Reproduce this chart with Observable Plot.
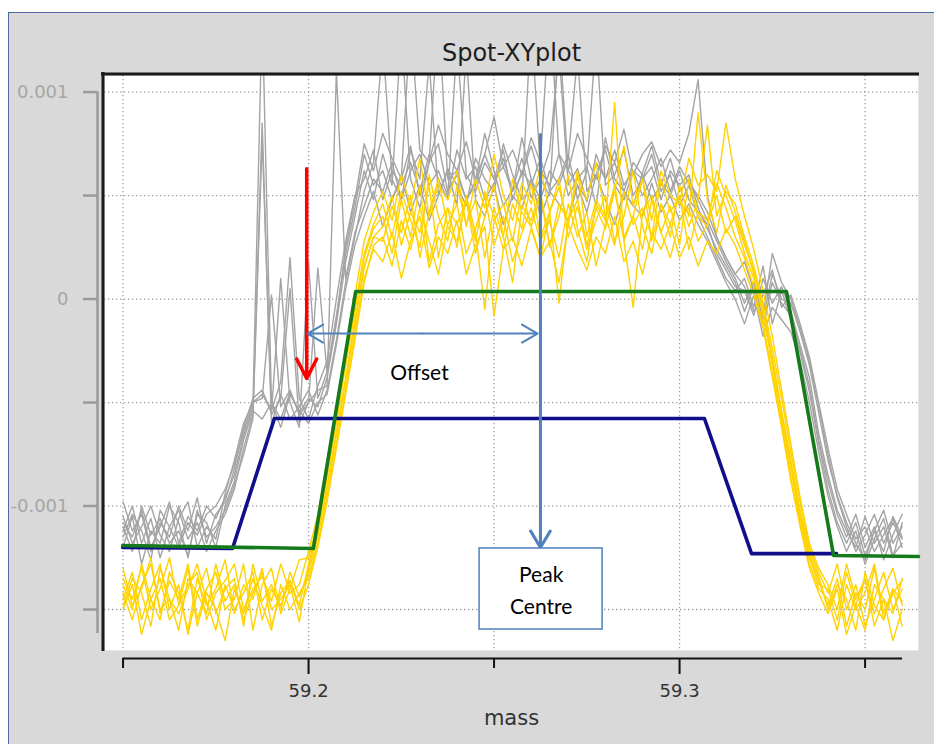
<!DOCTYPE html>
<html><head><meta charset="utf-8">
<script src="https://cdn.jsdelivr.net/npm/d3@7"></script>
<script src="https://cdn.jsdelivr.net/npm/@observablehq/plot@0.6"></script>
<style>
html,body{margin:0;padding:0;background:#fff;overflow:hidden;}
#wrap{position:relative;width:934px;height:744px;}
#panel{position:absolute;left:8px;top:12px;right:0;bottom:0;background:#d9d9d9;border-left:1.5px solid #4a6da0;border-top:1.5px solid #4a6da0;}
#chart{position:absolute;left:0;top:0;}
</style></head><body>
<div id="wrap"><div id="panel"></div><div id="chart"></div></div>
<script>
// ---- data -------------------------------------------------------------
const UNIT = 1e-5; // trace values are written in units of 1e-5

const mass = [
59.1500,59.1525,59.1550,59.1575,59.1600,59.1625,59.1650,59.1675,59.1700,59.1725,
59.1750,59.1775,59.1800,59.1825,59.1850,59.1875,59.1900,59.1925,59.1950,59.1975,
59.2000,59.2025,59.2050,59.2075,59.2100,59.2125,59.2150,59.2175,59.2200,59.2225,
59.2250,59.2275,59.2300,59.2325,59.2350,59.2375,59.2400,59.2425,59.2450,59.2475,
59.2500,59.2525,59.2550,59.2575,59.2600,59.2625,59.2650,59.2675,59.2700,59.2725,
59.2750,59.2775,59.2800,59.2825,59.2850,59.2875,59.2900,59.2925,59.2950,59.2975,
59.3000,59.3025,59.3050,59.3075,59.3100,59.3125,59.3150,59.3175,59.3200,59.3225,
59.3250,59.3275,59.3300,59.3325,59.3350,59.3375,59.3400,59.3425,59.3450,59.3475,
59.3500,59.3525,59.3550,59.3575,59.3600];

const gray1 = [-108,-115,-102,-120,-110,-98,-118,-105,-112,-100,-106, -96,-85,-66,-52,
 140,-50,-58,-45,-55,-48,-52, -38,-12,18,40,
 62,48,70,55,130,58,44,66,75,52,60,48,57,80,62,45,53,68,49,58,72,120,55,63,47,70,58,66,52,45,61,74,56,50,62,48,
 42,36,22,14,6, 4,-8,10,-2,6, -6,-22,-38,-65,-85,-102, -112,-120,-105,-118,-110,-125,-108];
const gray2 = [-120,-105,-128,-112,-118,-100,-108,-125,-102,-115,-110, -102,-90,-75,-58,
 78,-56,-48,5,-60,-50,-44, -42,110,10,32,
 45,58,52,66,48,72,58,115,50,63,55,45,68,58,52,75,60,48,135,62,55,70,50,58,64,45,78,58,52,66,60,48,55,68,52,58,
 48,38,28,18,10, -2,8,-10,12,0, -2,-16,-32,-55,-78,-95, -108,-118,-126,-112,-122,-105,-115];
const gray3 = [-98,-112,-104,-122,-108,-115,-100,-112,-96,-118,-104, -98,-82,-62,-48,
 -44,-55,10,-50,-62,18,-48, -35,-8,22,44,
 70,55,62,48,58,74,50,66,140,58,62,48,55,70,58,64,52,78,58,48,62,55,68,118,52,60,72,55,48,62,58,70,52,60,45,55,
 40,30,20,10,4, 10,-4,16,-12,4, -10,-26,-45,-70,-92,-108, -118,-108,-124,-112,-102,-118,-110];
const gray4 = [-112,-100,-118,-106,-125,-110,-102,-116,-108,-122,-112, -104,-92,-72,-56,
 85,-60,-46,-58,-52,-44,-56, -44,-20,8,30,
 52,66,125,58,48,62,70,55,62,50,72,58,64,48,56,68,52,60,74,58,50,130,62,55,48,66,58,72,55,62,50,58,68,52,64,56,
 50,42,30,20,12, 6,-6,2,14,-4, 2,-12,-28,-50,-72,-92, -104,-116,-110,-122,-114,-106,-120];
const gray5 = [-105,-118,-110,-100,-114,-122,-106,-98,-120,-110,-116, -94,-78,-60,-50,
 -46,-54,-40,20,-48,-58,-42, -30,0,28,50,
 58,72,48,62,55,66,52,70,58,48,125,60,52,66,58,72,48,62,55,68,52,58,70,48,62,128,55,60,72,50,58,64,48,62,55,60,
 44,34,24,16,8, -6,6,-14,8,-2, -8,-24,-42,-68,-88,-104, -115,-104,-120,-110,-126,-114,-104];
const gray6 = [-115,-104,-112,-126,-102,-110,-120,-108,-114,-104,-100, -92,-80,-64,-50,
 -48,2,-52,-44,-56,-50,15, -36,-10,25,48,
 75,62,80,68,58,135,72,66,84,70,62,76,58,70,88,64,72,60,78,66,140,70,62,80,68,58,74,66,82,60,70,76,64,72,66,80,
 106,50,30,20,12, 18,4,-8,22,8, 0,-14,-30,-52,-75,-96, -110,-122,-114,-104,-118,-108,-116];
const gray7 = [-110,-122,-100,-114,-106,-118,-112,-124,-104,-108,-120, -100,-88,-68,-54,
 -58,-50,-62,-46,-54,-60,-50, -46,-22,5,26,
 40,52,35,48,60,42,55,38,50,62,45,120,48,40,55,36,50,44,58,40,52,46,38,55,42,60,48,36,52,45,40,56,42,50,38,46,
 36,28,18,8,0, -12,2,-18,-4,-10, -16,-30,-50,-74,-95,-110, -122,-112,-128,-116,-106,-124,-118];

const yellow1 = [-138,-150,-128,-145,-155,-132,-142,-160,-135,-148,-140,-126,-152,-138,-145,-130,-158,-142,-136,-148,
 -128,-110,-86,-60,-32,-6,20,34,
 40,22,48,30,55,18,36,44,25,50,32,-5,38,46,28,52,35,20,42,58,30,45,24,38,50,28,40,62,35,22,46,30,55,40,90,48,32,55,42,
 28,12,-8,-30,-55,-80,-104,-124,-136, -148,-135,-158,-142,-150,-130,-155,-140,-146];
const yellow2 = [-145,-132,-155,-140,-128,-150,-138,-162,-142,-130,-152,-140,-135,-158,-128,-146,-138,-150,-132,-144,
 -132,-115,-92,-66,-40,-12,15,30,
 28,45,32,50,20,42,58,35,28,48,22,40,55,30,8,45,38,52,26,40,60,34,18,46,38,55,28,-4,42,50,32,45,26,58,40,35,62,50,38,
 22,10,-6,-32,-58,-82,-106,-125,-138, -140,-155,-132,-148,-160,-138,-145,-152,-135];
const yellow3 = [-130,-148,-140,-125,-152,-136,-145,-128,-155,-140,-132,-150,-145,-128,-160,-138,-130,-152,-140,-126,
 -125,-108,-82,-56,-30,-4,22,36,
 46,30,52,38,25,60,40,28,55,36,48,20,44,30,58,42,35,50,25,46,38,62,30,48,40,26,52,36,44,30,58,42,50,35,48,84,40,52,46,
 30,16,-2,-24,-48,-74,-98,-120,-132, -142,-128,-150,-138,-158,-145,-132,-150,-140];
const yellow4 = [-150,-138,-162,-145,-135,-155,-148,-130,-158,-142,-150,-165,-140,-152,-135,-148,-160,-138,-150,-142,
 -135,-118,-95,-70,-44,-16,10,24,
 18,32,10,28,40,15,30,22,38,12,26,35,-8,24,30,16,34,20,28,8,36,24,14,30,22,40,18,28,12,32,24,36,20,30,16,28,22,34,26,
 14,2,-14,-38,-62,-88,-110,-130,-142, -152,-140,-162,-148,-135,-158,-145,-165,-150];
const yellow5 = [-135,-145,-130,-150,-140,-125,-148,-138,-132,-155,-142,-136,-128,-150,-140,-134,-146,-128,-142,-138,
 -122,-104,-78,-52,-26,2,28,42,
 52,38,60,45,68,40,55,48,62,35,58,44,70,50,38,56,46,64,42,54,36,60,48,66,40,52,74,45,58,38,62,50,46,68,55,60,52,85,58,
 40,24,4,-18,-44,-70,-96,-118,-130, -138,-150,-128,-145,-135,-152,-140,-130,-148];
const yellow6 = [-142,-155,-138,-128,-150,-145,-160,-135,-142,-152,-128,-146,-138,-155,-142,-132,-150,-145,-138,-156,
 -130,-112,-90,-64,-38,-10,16,30,
 35,50,26,42,32,55,20,44,36,48,28,52,40,24,46,34,56,30,42,-2,38,48,26,44,34,52,30,40,58,28,46,36,50,24,42,38,56,44,30,
 20,6,-12,-36,-60,-86,-108,-128,-140, -145,-160,-138,-150,-142,-128,-152,-140,-158];
const yellow7 = [-148,-135,-142,-158,-130,-145,-152,-140,-128,-146,-160,-138,-150,-142,-132,-155,-140,-148,-136,-150,
 -138,-120,-98,-72,-46,-20,8,26,
 30,16,38,24,44,28,12,36,46,22,34,50,26,40,18,32,44,28,38,20,46,30,42,16,36,95,28,40,24,48,32,20,38,44,28,36,50,32,40,
 26,14,-4,-28,-54,-78,-102,-122,-134, -150,-138,-145,-160,-132,-148,-155,-142,-136];

const grayTraces = [gray1, gray2, gray3, gray4, gray5, gray6, gray7];
const yellowTraces = [yellow1, yellow2, yellow3, yellow4, yellow5, yellow6, yellow7];

// peak-shape overlays (mass, signal)
const greenMass   = [59.1499, 59.2013, 59.2127, 59.3288, 59.3415, 59.3644];
const greenSignal = [-0.001191, -0.001205, 0.0000362, 0.0000362, -0.001239, -0.001244];
const blueMass    = [59.1499, 59.1795, 59.1908, 59.3067, 59.3194, 59.3423];
const blueSignal  = [-0.0012005, -0.001205, -0.000577, -0.000577, -0.00123, -0.00123];

// annotations (data coordinates)
const redArrow = [{x1: 59.1995, y1: 0.00063, x2: 59.1995, y2: -0.000384}];
const peakArrow = [{x1: 59.2625, y1: 0.000795, x2: 59.2625, y2: -0.0012}];
const offsetArrows = [
  {x1: 59.2307, y1: -0.0001667, x2: 59.19973, y2: -0.0001667},
  {x1: 59.2307, y1: -0.0001667, x2: 59.26173, y2: -0.0001667}];
const peakBox = [{x1: 59.2461, x2: 59.27925, y1: -0.001205, y2: -0.0015966}];
const notes = [
  {x: 59.2299, y: -0.00036, text: "Offset"},
  {x: 59.2627, y: -0.0013357, text: "Peak"},
  {x: 59.2627, y: -0.0014903, text: "Centre"}];

// axes
const xDomain = [59.145, 59.3644];
const yDomain = [-0.001698, 0.00108];
const xGridTicks = [59.15, 59.2, 59.25, 59.3, 59.35];
const xMajorTicks = [59.2, 59.3];
const xMajorLabels = ["59.2", "59.3"];
const xMinorTicks = [59.15, 59.25, 59.35];
const xAxisSpan = [59.15, 59.3601];
const yGridTicks = [0.001, 0.0005, 0, -0.0005, -0.001, -0.0015];
const yLabelTicks = [0.001, 0, -0.001];
const yLabelText = ["0.001", "0", "-0.001"];
const yAxisSpan = [0.001, -0.001616];
const titleText = ["Spot-XYplot"];
const xLabelText = ["mass"];

// ---- build ------------------------------------------------------------
const toRows = (traces) => traces.flatMap((vals, k) =>
  vals.map((v, i) => ({mass: mass[i], signal: v * UNIT, trace: k})));
const grayRows = toRows(grayTraces);
const yellowRows = toRows(yellowTraces);
const greenRows = greenMass.map((m, i) => ({mass: m, signal: greenSignal[i]}));
const blueRows = blueMass.map((m, i) => ({mass: m, signal: blueSignal[i]}));

const noteBlue = "#4f81bd";

const chart = Plot.plot({
  width: 934, height: 744,
  marginLeft: 104, marginRight: 16, marginTop: 75, marginBottom: 94,
  x: {domain: xDomain},
  y: {domain: yDomain},
  style: {background: "transparent", fontFamily: "DejaVu Sans", overflow: "visible"},
  marks: [
    Plot.frame({fill: "white", stroke: "#e6e6e6"}),
    Plot.gridY({ticks: yGridTicks, stroke: "#9a9a9a", strokeOpacity: 1, strokeWidth: 1.3, strokeDasharray: "1.3,2.7"}),
    Plot.gridX({ticks: xGridTicks, stroke: "#9a9a9a", strokeOpacity: 1, strokeWidth: 1.3, strokeDasharray: "1.3,2.7"}),
    Plot.line(grayRows, {x: "mass", y: "signal", z: "trace", stroke: "#a4a4a4", strokeWidth: 1.4, clip: true}),
    Plot.line(yellowRows, {x: "mass", y: "signal", z: "trace", stroke: "#ffd200", strokeWidth: 1.4, clip: true}),
    Plot.line(blueRows, {x: "mass", y: "signal", stroke: "#0f0f8c", strokeWidth: 3.6}),
    Plot.line(greenRows, {x: "mass", y: "signal", stroke: "#157a1c", strokeWidth: 3.6}),
    Plot.arrow(redArrow, {x1: "x1", y1: "y1", x2: "x2", y2: "y2", stroke: "#ff0000", strokeWidth: 3.5, headLength: 9.4, headAngle: 54}),
    Plot.arrow(offsetArrows, {x1: "x1", y1: "y1", x2: "x2", y2: "y2", stroke: noteBlue, strokeWidth: 2, headLength: 13.5, headAngle: 60}),
    Plot.arrow(peakArrow, {x1: "x1", y1: "y1", x2: "x2", y2: "y2", stroke: noteBlue, strokeWidth: 3, headLength: 9.5, headAngle: 62}),
    Plot.rect(peakBox, {x1: "x1", x2: "x2", y1: "y1", y2: "y2", fill: "white", stroke: noteBlue, strokeWidth: 1.5}),
    Plot.text(notes, {x: "x", y: "y", text: "text", fontFamily: "Lato", fontSize: 21, fill: "#000"}),
    // plot borders
    Plot.ruleY([yDomain[1]], {stroke: "#1a1a1a", strokeWidth: 3, dy: -1.5, insetLeft: -3, insetRight: -1}),
    Plot.ruleX([xDomain[0]], {stroke: "#1a1a1a", strokeWidth: 3, dx: -1.5, insetTop: -3, insetBottom: -1}),
    // y axis
    Plot.ruleX([xDomain[0]], {y1: yAxisSpan[0], y2: yAxisSpan[1], dx: -7, stroke: "#9a9a9a", strokeWidth: 2.5}),
    Plot.axisY({ticks: yGridTicks, tickSize: 14, dx: -7, tickFormat: () => "", stroke: "#9a9a9a", strokeWidth: 2.5, label: null}),
    Plot.axisY({ticks: yLabelTicks, tickSize: 0, tickPadding: 36, tickFormat: d => yLabelText[yLabelTicks.indexOf(d)],
      fill: "#a6a6a6", fontSize: 18, label: null}),
    // x axis
    Plot.ruleY([yDomain[0]], {x1: xAxisSpan[0], x2: xAxisSpan[1], dy: 8, stroke: "#111", strokeWidth: 2}),
    Plot.axisX({ticks: xMinorTicks, tickSize: 10, dy: 8, tickFormat: () => "", stroke: "#111", strokeWidth: 2, label: null}),
    Plot.axisX({ticks: xMajorTicks, tickSize: 16, dy: 8, tickPadding: 10, tickFormat: d => xMajorLabels[xMajorTicks.indexOf(d)],
      stroke: "#111", strokeWidth: 2, fill: "#333", fontSize: 18, label: null}),
    // titles
    Plot.text(titleText, {text: d => d, frameAnchor: "top", dy: -32, fontSize: 24, fill: "#1e1e1e"}),
    Plot.text(xLabelText, {text: d => d, frameAnchor: "bottom", dy: 74, fontSize: 21, fill: "#333"})
  ]
});
document.getElementById("chart").append(chart);
</script></body></html>
